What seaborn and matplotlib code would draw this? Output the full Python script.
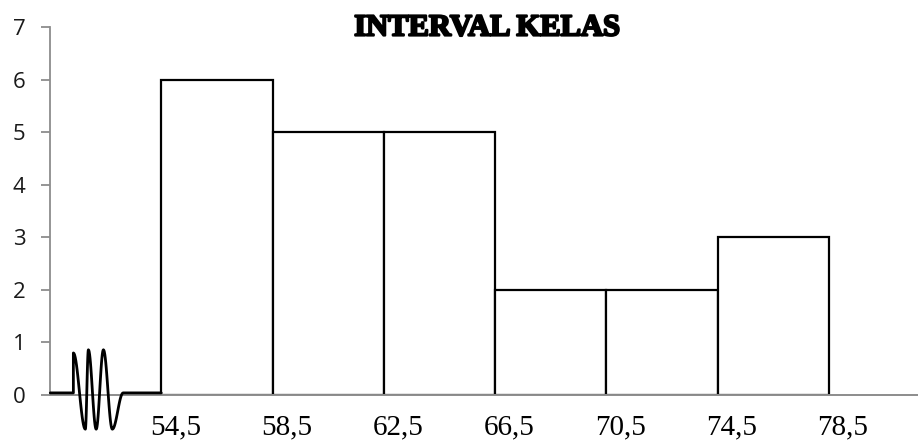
import numpy as np
import matplotlib
matplotlib.use("Agg")
import matplotlib.pyplot as plt
import matplotlib.transforms as mtransforms
import matplotlib.patheffects as pe
import seaborn as sns

# ---- data ----
edges = [54.5, 58.5, 62.5, 66.5, 70.5, 74.5, 78.5]
counts = [6, 5, 5, 2, 2, 3]
tick_labels = ["54,5", "58,5", "62,5", "66,5", "70,5", "74,5", "78,5"]
y_ticks = [0, 1, 2, 3, 4, 5, 6, 7]
title = "INTERVAL KELAS"

sns.set_theme(style="white")
plt.rcParams['font.family'] = ['DejaVu Sans']

fig = plt.figure(figsize=(9.18, 4.45), dpi=100)
ax = fig.add_axes([50/918, 1-395/445, 1-50/918, (395-27)/445])

mids = [(a + b) / 2 for a, b in zip(edges[:-1], edges[1:])]
sns.histplot(x=mids, weights=counts, bins=edges, ax=ax, stat="count",
             color="white", edgecolor="black", linewidth=1.6, alpha=1)

ax.set_xlim(50.5, 81.7)
ax.set_ylim(0, 7)
ax.set_xlabel("")
ax.set_ylabel("")

# spines
for s in ["top", "right"]:
    ax.spines[s].set_visible(False)
ax.spines["left"].set_color("#8c8c8c")
ax.spines["left"].set_linewidth(1.3)
ax.spines["bottom"].set_color("#8c8c8c")
ax.spines["bottom"].set_linewidth(1.4)

# y ticks
ax.set_yticks(y_ticks)
ax.set_yticklabels([str(v) for v in y_ticks], fontfamily="Open Sans", fontsize=16,
                   color="#1a1a1a")
ax.tick_params(axis="y", direction="out", length=6.5, width=1.3, color="#8c8c8c",
               pad=11, left=True)

# x ticks at class boundaries, labels shifted slightly to the right
ax.set_xticks(edges)
ax.set_xticklabels(tick_labels, fontfamily="Liberation Serif", fontsize=21,
                   color="black")
ax.tick_params(axis="x", length=0, pad=14, bottom=False)
offset = mtransforms.ScaledTranslation(14/100, 0, fig.dpi_scale_trans)
for lab in ax.get_xticklabels():
    lab.set_transform(lab.get_transform() + offset)

# axis-break squiggle (decoration) with rounded turns
kx = [51.34, 51.77, 51.88, 52.16, 52.42, 52.74, 53.13]
ky = [0.80, -0.65, 0.86, -0.65, 0.86, -0.65, 0.04]
sx = [50.51, 51.34]
sy = [0.04, 0.04]
t = np.linspace(0, 1, 20)
for i in range(len(kx) - 1):
    w = (1 - np.cos(np.pi * t)) / 2
    sx.extend(list(kx[i] + (kx[i+1] - kx[i]) * t))
    sy.extend(list(ky[i] + (ky[i+1] - ky[i]) * w))
sx.extend([54.5])
sy.extend([0.04])
ax.plot(sx, sy, color="black", linewidth=2.0, clip_on=False,
        solid_joinstyle="round", solid_capstyle="round", zorder=5)

# title
fig.text(487/918, 1-28/445, title, ha="center", va="center",
         fontfamily="Liberation Serif", fontweight="bold", fontsize=22,
         color="black",
         path_effects=[pe.withStroke(linewidth=1.6, foreground="black")])

fig.savefig("out.png", dpi=100)
